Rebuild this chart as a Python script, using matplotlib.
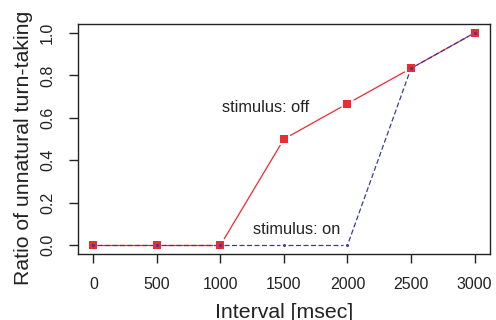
import numpy as np
import matplotlib
matplotlib.use("Agg")
import matplotlib.pyplot as plt

plt.rcParams['font.family'] = ['Liberation Sans', 'DejaVu Sans']

# data
interval = [0, 500, 1000, 1500, 2000, 2500, 3000]
ratio_off = [0.0, 0.0, 0.0, 0.5, 0.667, 0.833, 1.0]
ratio_on = [0.0, 0.0, 0.0, 0.0, 0.0, 0.833, 1.0]
x_ticks = [0, 500, 1000, 1500, 2000, 2500, 3000]
y_ticks = [0.0, 0.2, 0.4, 0.6, 0.8, 1.0]

red = '#ee2a32'
blue = '#3b3b9c'
ink = '#222222'


def gapped_line(ax, x, y, gap, **kw):
    """R style type='b': segments between points, leaving a gap round each point."""
    tr = ax.transData
    pts = tr.transform(np.column_stack([x, y]))
    inv = tr.inverted()
    for p0, p1 in zip(pts[:-1], pts[1:]):
        d = p1 - p0
        n = np.hypot(*d)
        if n <= 2 * gap:
            continue
        u = d / n
        a = inv.transform(p0 + u * gap)
        b = inv.transform(p1 - u * gap)
        ax.plot([a[0], b[0]], [a[1], b[1]], **kw)


fig = plt.figure(figsize=(4.96, 3.2), dpi=100)
ax = fig.add_axes([0.157, 0.206, 0.831, 0.719])
ax.set_xlim(-122, 3122)
ax.set_ylim(-0.042, 1.042)

gapped_line(ax, interval, ratio_off, 7, color=red, lw=0.9, solid_capstyle='butt')
gapped_line(ax, interval, ratio_on, 4, color=blue, lw=0.9, ls=(0, (4, 2)))
ax.plot(interval, ratio_off, ls='none', marker='s', ms=5.6, color=red, mew=0)
ax.plot(interval, ratio_on, ls='none', marker='o', ms=2.2, color=blue, mew=0)

ax.text(1354, 0.648, 'stimulus: off', ha='center', va='center', fontsize=11.8, color=ink)
ax.text(1600, 0.072, 'stimulus: on', ha='center', va='center', fontsize=11.8, color=ink)

ax.set_xticks(x_ticks)
ax.set_yticks(y_ticks)
ax.set_xticklabels([str(v) for v in x_ticks])
ax.set_yticklabels(['%.1f' % v for v in y_ticks], rotation=90, va='center')
ax.tick_params(direction='out', length=6.5, width=1, labelsize=11.5, pad=10, colors=ink)
for s in ax.spines.values():
    s.set_linewidth(1)
    s.set_color(ink)

ax.set_xlabel('Interval [msec]', fontsize=15.3, labelpad=8, color=ink)
ax.set_ylabel('Ratio of unnatural turn-taking', fontsize=15.3, color=ink)
ax.yaxis.set_label_coords(-0.11, 0.461)

fig.savefig('out.png', dpi=100)
